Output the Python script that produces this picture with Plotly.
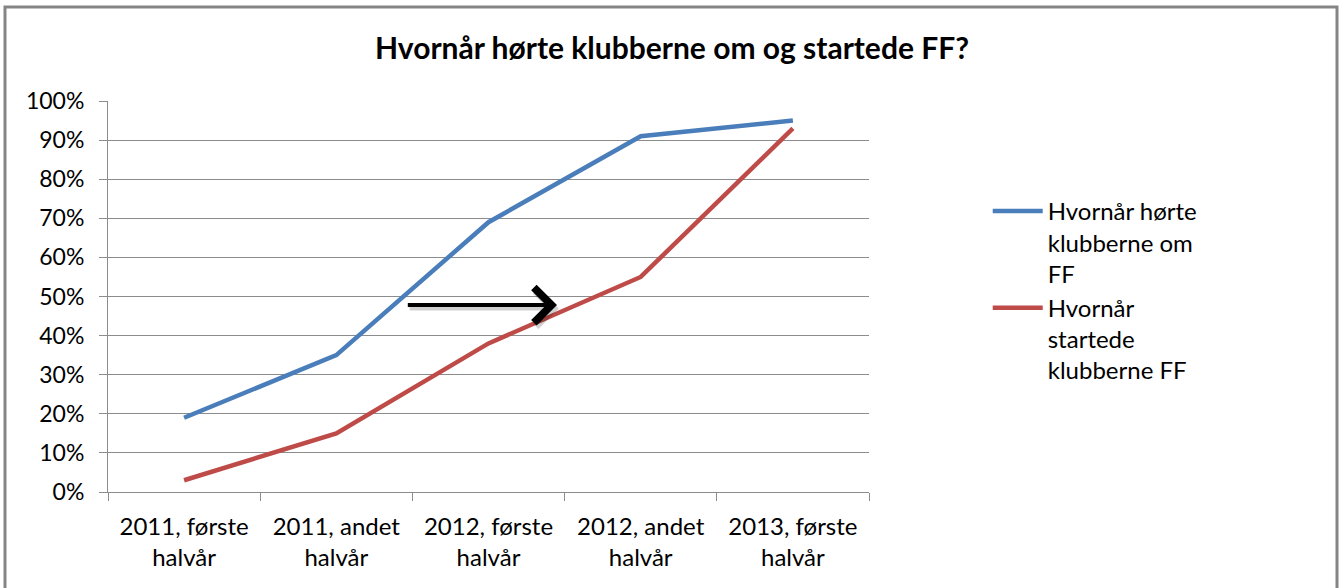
import plotly.graph_objects as go

categories = ["2011, første<br>halvår", "2011, andet<br>halvår", "2012, første<br>halvår",
              "2012, andet<br>halvår", "2013, første<br>halvår"]
heard = [19, 35, 69, 91, 95]
started = [3, 15, 38, 55, 93]
series_names = ["Hvornår hørte<br>klubberne om<br>FF", "Hvornår<br>startede<br>klubberne FF"]
y_ticks = [0, 10, 20, 30, 40, 50, 60, 70, 80, 90, 100]
y_labels = [f"{v}%" for v in y_ticks]

FONT = "Lato"
GRID = "#8c8c8c"

fig = go.Figure()
fig.add_trace(go.Scatter(x=categories, y=heard, mode="lines", name=series_names[0],
                         line=dict(color="#4A7EBB", width=4.5)))
fig.add_trace(go.Scatter(x=categories, y=started, mode="lines", name=series_names[1],
                         line=dict(color="#BE4B48", width=4.5)))

# arrow shadow + arrow
for dx, dy, col in [(0.012, -0.9, "rgba(0,0,0,0.18)"), (0, 0, "black")]:
    fig.add_annotation(x=2.45 + dx, y=47.8 + dy, ax=1.46 + dx, ay=47.8 + dy,
                       xref="x", yref="y", axref="x", ayref="y",
                       showarrow=True, arrowhead=4, arrowsize=1.7, arrowwidth=4,
                       arrowcolor=col, text="")

# outer chart frame (bottom edge runs off the page, as in the reference)
fig.add_shape(type="rect", xref="paper", yref="paper",
              x0=(5 - 108) / 761, x1=(1337 - 108) / 761, y0=-0.3, y1=(492 - 7) / 391,
              line=dict(color="#858585", width=3), fillcolor="rgba(0,0,0,0)")

fig.update_layout(
    width=1344, height=588,
    paper_bgcolor="white", plot_bgcolor="white",
    margin=dict(l=108, r=475, t=101, b=96),
    font=dict(family=FONT, size=24, color="#000000"),
    title=dict(text="<b>Hvornår hørte klubberne om og startede FF?</b>",
               x=0.5, xanchor="center", y=1 - 48 / 588, yanchor="middle",
               font=dict(family=FONT, size=30, color="#000000")),
    showlegend=True,
    legend=dict(x=1.156, y=0.775, xanchor="left", yanchor="top",
                font=dict(family=FONT, size=24, color="#000000"),
                valign="top", itemwidth=50, bgcolor="rgba(0,0,0,0)",
                tracegroupgap=0),
    xaxis=dict(type="category", showgrid=False, showline=True, linecolor=GRID, linewidth=1,
               ticks="outside", tickson="boundaries", ticklen=8, tickcolor=GRID,
               ticklabelstandoff=13,
               tickfont=dict(family=FONT, size=24), range=[-0.5, 4.5], fixedrange=True),
    yaxis=dict(range=[0, 100], tickvals=y_ticks, ticktext=y_labels, showgrid=True,
               gridcolor=GRID, gridwidth=1, showline=True, linecolor=GRID, linewidth=1,
               ticks="outside", ticklen=8, tickcolor=GRID, zeroline=False,
               ticklabelstandoff=10,
               tickfont=dict(family=FONT, size=23)),
)

fig.write_html("out.html", config={"displayModeBar": False},
               post_script="document.body.style.margin='0px';")
